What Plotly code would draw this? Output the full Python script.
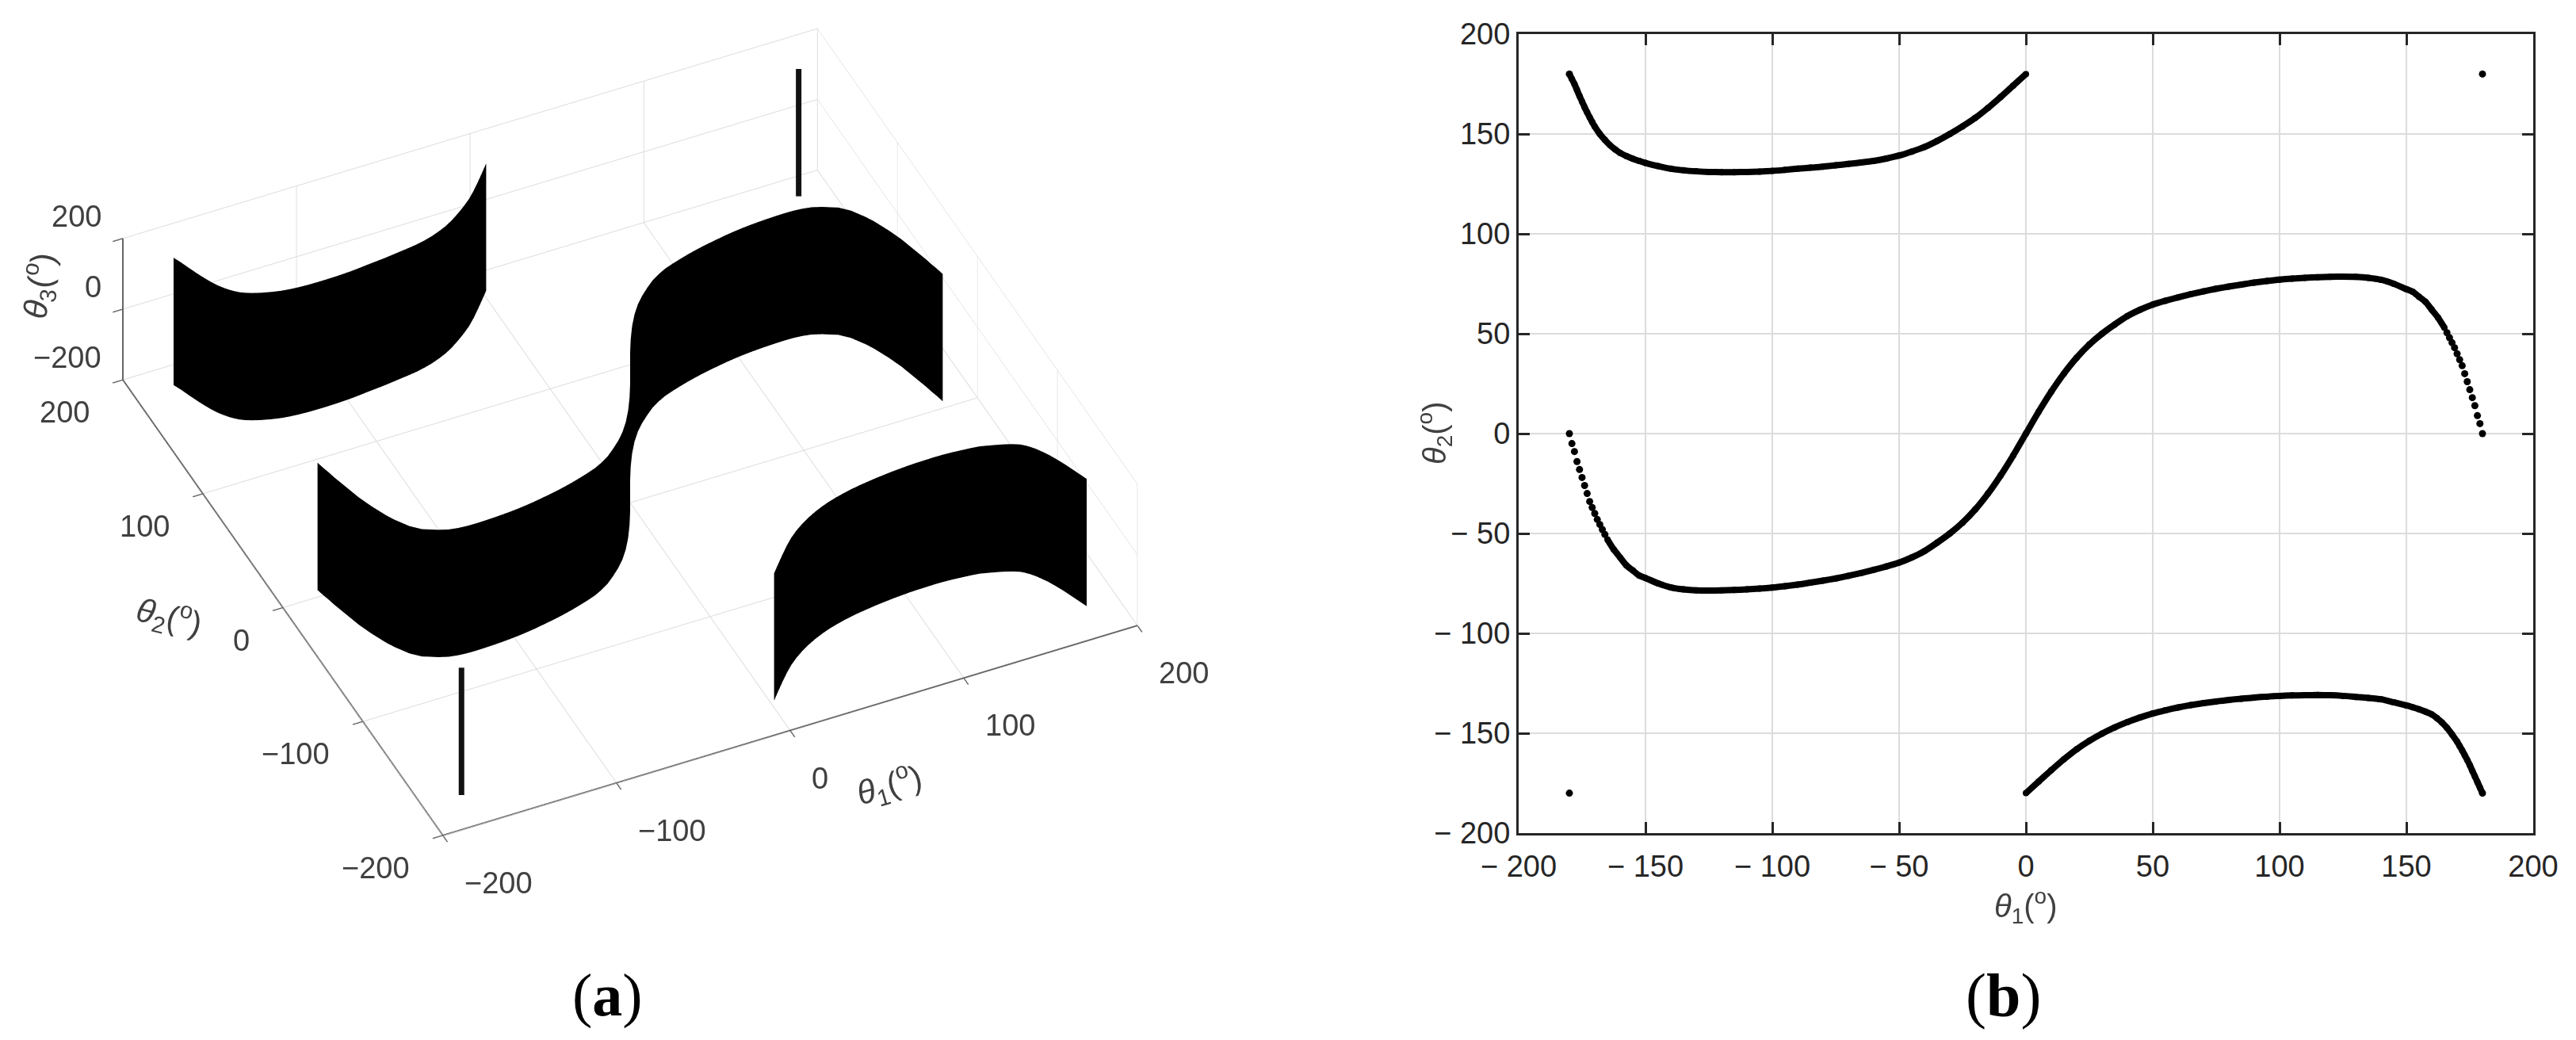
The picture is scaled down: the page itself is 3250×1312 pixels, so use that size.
import plotly.graph_objects as go

W, H = 3250, 1312

top_x = [-180, -179, -178, -177, -176, -175, -174, -173, -172, -171, -170, -168, -166, -164, -162, -160, -157.5, -155,
         -152.5, -150, -145, -140, -135, -130, -125, -120, -115, -110, -105, -100, -95, -90, -85, -80, -75, -70, -65,
         -60, -55, -50, -45, -40, -35, -30, -25, -20, -15, -10, -5, 0]
top_y = [180, 177.5, 175, 172, 169, 166.2, 163.4, 160.8, 158.3, 156, 153.7, 150, 147, 144.4, 142.3, 140.5, 138.9, 137.6,
         136.5, 135.5, 133.9, 132.6, 131.8, 131.3, 131, 130.9, 130.9, 131, 131.2, 131.5, 132, 132.6, 133.1, 133.6,
         134.3, 135, 135.7, 136.5, 137.7, 139.2, 141.2, 143.5, 146.5, 150, 153.8, 158, 163, 168.5, 174.2, 180]

bot_x = [0, 5, 10, 15, 20, 25, 30, 35, 40, 45, 50, 55, 60, 65, 70, 75, 80, 85, 90, 95, 100, 105, 110, 115, 120, 125,
         130, 135, 140, 145, 150, 152.5, 155, 157.5, 160, 162, 164, 166, 168, 170, 171, 172, 173, 174, 175, 176, 177,
         178, 179, 180]
bot_y = [-180, -174.2, -168.5, -163, -158, -153.8, -150.2, -147.1, -144.4, -142.1, -140.1, -138.5, -137.1, -135.9,
         -134.9, -134.1, -133.3, -132.7, -132.1, -131.7, -131.3, -131.1, -131, -130.9, -131, -131.3, -131.8, -132.3,
         -133, -134.5, -136.1, -137, -138, -139.2, -140.6, -142.4, -144.6, -147.3, -150.6, -154.2, -156.4, -158.6, -161,
         -163.4, -166, -168.8, -171.6, -174.4, -177.2, -180]

# sparse dots at the two ends of the middle curve
midl_x = [-180, -179, -178, -177, -176, -175, -174, -173, -172, -171, -170, -169, -168, -167, -166]
midl_y = [0, -5, -9, -14, -18, -22, -26, -30, -34, -37, -40, -43, -45.5, -48, -50.5]
midr_x = [166, 167, 168, 169, 170, 171, 172, 173, 174, 175, 176, 177, 178, 179, 180]
midr_y = [50.5, 48, 45.5, 43, 40, 37, 34, 30, 26, 22, 18, 14, 9, 5, 0]

mid_x = [-165, -162.5, -160, -157.5, -155, -152.5, -150, -145, -140, -135, -130, -125, -120, -115, -110, -105, -100,
         -95, -90, -85, -80, -75, -70, -65, -60, -55, -50, -45, -40, -35, -30, -25, -20, -15, -10, -5, 0,
         5, 10, 15, 20, 25, 30, 35, 40, 45, 50, 55, 60, 65, 70, 75, 80, 85, 90, 95, 100, 105, 110, 115, 120, 125,
         130, 135, 140, 145, 150, 152.5, 155, 157.5, 160, 162.5, 165]
mid_y = [-53, -58, -62, -66, -68.5, -71, -72.3, -75, -77, -78, -78.5, -78.6, -78.5, -78.3, -78, -77.6, -77.1,
         -76.4, -75.6, -74.6, -73.6, -72.5, -71.2, -69.8, -68.2, -66.5, -64.6, -62, -58.8, -54.6, -50, -44.6, -38,
         -30.1, -21, -10.9, 0,
         10.9, 21, 30.1, 38, 44.6, 50, 54.6, 58.8, 62, 64.6, 66.5, 68.2, 69.8, 71.2, 72.5, 73.6, 74.6, 75.6, 76.4,
         77.1, 77.6, 78, 78.3, 78.5, 78.6, 78.5, 78, 77, 75, 72.3, 71, 68.5, 66, 62, 58, 53]

stick_x = [-180, 180]
stick_y = [-180, 180]
wall_z = [-180, 180]

x_ticks_b = [-200, -150, -100, -50, 0, 50, 100, 150, 200]
x_text_b = ["\u2212 200", "\u2212 150", "\u2212 100", "\u2212 50", "0", "50", "100", "150", "200"]
ticks_a = [-200, -100, 0, 100, 200]
text_a = ["\u2212200", "\u2212100", "0", "100", "200"]
z_ticks_a = [-200, 0, 200]
z_text_a = ["\u2212200", "0", "200"]

GRID = "#dcdcdc"
DARK = "#262626"
GREY = "#404040"
FONT = "Liberation Sans"
SERIF = "Liberation Serif"


def px(x):
    return x / W


def py(y):
    return 1 - y / H


fig = go.Figure()


# panel (a): walls standing on the three branches
def add_wall(xs, ys):
    fig.add_trace(go.Surface(
        x=[xs, xs], y=[ys, ys], z=[[wall_z[0]] * len(xs), [wall_z[1]] * len(xs)],
        colorscale=[[0, "black"], [1, "black"]], showscale=False, hoverinfo="skip",
        lighting=dict(ambient=1, diffuse=0, specular=0, fresnel=0),
    ))


add_wall(top_x, top_y)
add_wall(bot_x, bot_y)
add_wall(midl_x + mid_x + midr_x, midl_y + mid_y + midr_y)

for sx, sy in zip(stick_x, stick_y):
    fig.add_trace(go.Scatter3d(
        x=[sx, sx], y=[sy, sy], z=wall_z, mode="lines",
        line=dict(color="#111111", width=14), hoverinfo="skip", showlegend=False,
    ))

axis3d = dict(
    range=[-200, 200], autorange=False, showgrid=True, gridcolor=GRID, gridwidth=2,
    showbackground=False, showline=True, linecolor="#666666", linewidth=4, zeroline=False,
    ticks="outside", ticklen=14, tickcolor="#666666", tickwidth=3,
    showticklabels=False, title=dict(text=""), showspikes=False, tickmode="array",
)


# tick labels of the 3D axes, pinned to the tick positions in data space
def scene_labels(xs, ys, zs, texts, xanchor, xshift, yshift):
    return [
        dict(x=x, y=y, z=z, text=t, showarrow=False, xanchor=xanchor, yanchor="middle",
             xshift=xshift, yshift=yshift, font=dict(family=FONT, size=38, color=GREY))
        for x, y, z, t in zip(xs, ys, zs, texts)
    ]


n = len(ticks_a)
scene_notes = (
    scene_labels(ticks_a, [-200] * n, [-200] * n, text_a, "left", 25, -60)
    + scene_labels([-200] * n, ticks_a, [-200] * n, text_a, "right", -40, -41)
    + scene_labels([-200] * 3, [200] * 3, z_ticks_a, z_text_a, "right", -25, 28)
)

ZOOM = 1.79
fig.update_layout(
    scene=dict(
        domain=dict(x=[px(0), px(1590)], y=[py(1084), py(6)]),
        xaxis=dict(axis3d, tickvals=ticks_a),
        yaxis=dict(axis3d, tickvals=ticks_a),
        zaxis=dict(axis3d, tickvals=z_ticks_a),
        annotations=scene_notes,
        aspectmode="manual",
        aspectratio=dict(x=ZOOM, y=ZOOM, z=0.245 * ZOOM),
        camera=dict(
            projection=dict(type="orthographic"),
            eye=dict(x=-0.316 * 2, y=-0.686 * 2, z=0.656 * 2),
            up=dict(x=0, y=0, z=1),
            center=dict(x=0, y=0, z=0),
        ),
    ),
)

# panel (b): the same branches seen from above
for xs, ys in [(top_x, top_y), (bot_x, bot_y), (mid_x, mid_y)]:
    fig.add_trace(go.Scatter(
        x=xs, y=ys, mode="lines+markers", line=dict(color="black", width=8, shape="spline", smoothing=0.6),
        marker=dict(color="black", size=8), showlegend=False,
    ))

fig.add_trace(go.Scatter(
    x=midl_x + midr_x + stick_x + stick_x[::-1], y=midl_y + midr_y + stick_y + stick_y,
    mode="markers", marker=dict(color="black", size=9), showlegend=False,
))

axis2d = dict(
    range=[-200, 200], showgrid=True, gridcolor=GRID, gridwidth=2, zeroline=False,
    showline=True, linecolor=DARK, linewidth=3, mirror="allticks", automargin=False,
    ticks="inside", ticklen=14, tickcolor=DARK, tickwidth=3,
    tickfont=dict(family=FONT, size=38, color=DARK),
    tickmode="array", tickvals=x_ticks_b, ticktext=x_text_b,
)
fig.update_layout(
    xaxis=dict(axis2d, domain=[px(1916), px(3196)], anchor="y", ticklabelstandoff=6),
    yaxis=dict(axis2d, domain=[py(1051), py(43)], anchor="x"),
)


def label(x, y, text, size=42, color=GREY, family=FONT, angle=0):
    fig.add_annotation(
        xref="paper", yref="paper", x=px(x), y=py(y), text=text, showarrow=False,
        font=dict(family=family, size=size, color=color), textangle=angle,
        xanchor="center", yanchor="middle",
    )


def theta(i):
    return f"<i>\u03b8</i><sub>{i}</sub>(<sup>o</sup>)"


label(1122, 990, theta(1), angle=-16)
label(214, 777, theta(2), angle=14)
label(48, 360, theta(3), angle=-82)
label(2556, 1143, theta(1), size=40)
label(1810, 546, theta(2), size=40, angle=-90)
label(766, 1255, "(<b>a</b>)", size=76, color="black", family=SERIF)
label(2527, 1255, "(<b>b</b>)", size=78, color="black", family=SERIF)

fig.update_layout(
    width=W, height=H, margin=dict(l=0, r=0, t=0, b=0),
    paper_bgcolor="white", plot_bgcolor="white", showlegend=False,
)

fig.write_html("out.html", config={"displayModeBar": False}, post_script="document.body.style.margin='0';")
